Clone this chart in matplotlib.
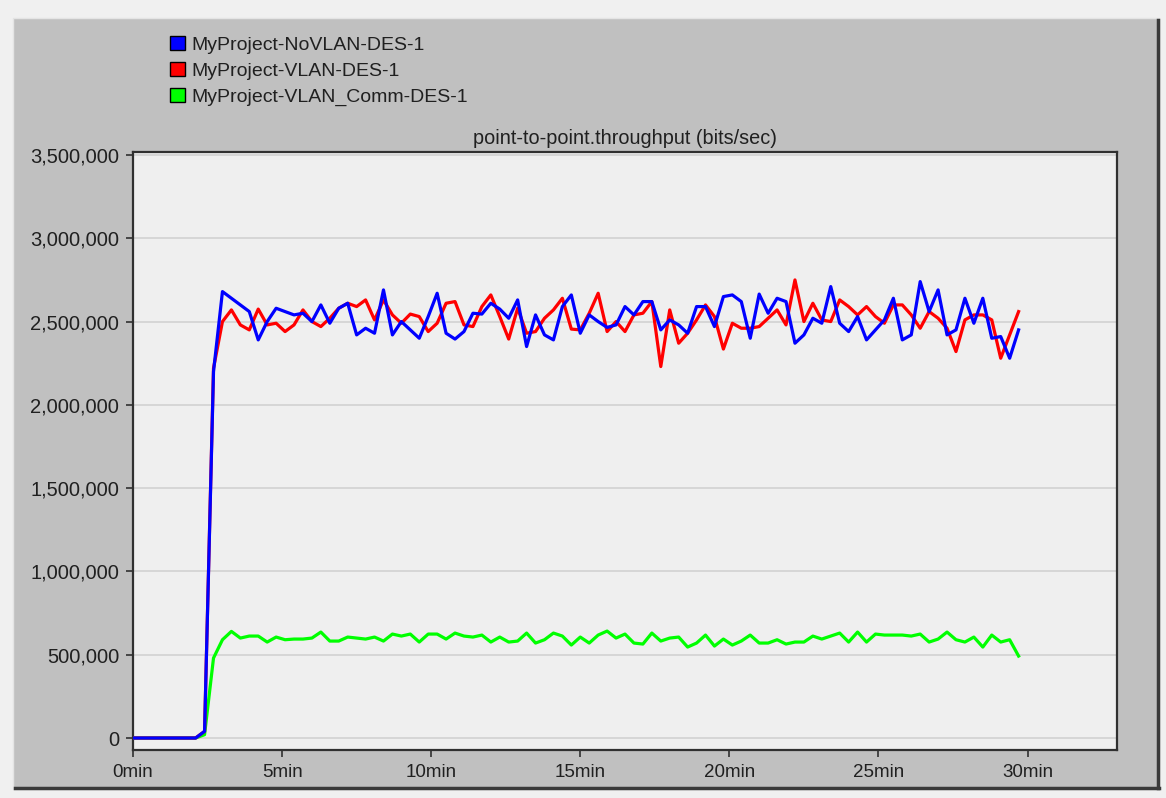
import numpy as np
import matplotlib
matplotlib.use('Agg')
import matplotlib.pyplot as plt
from matplotlib.patches import Rectangle, Patch
from matplotlib.lines import Line2D
from matplotlib.ticker import FuncFormatter

plt.rcParams['font.family'] = ['Liberation Sans', 'DejaVu Sans']

# sample step of the simulation statistic (minutes)
step = 0.3

labels = ['MyProject-NoVLAN-DES-1', 'MyProject-VLAN-DES-1', 'MyProject-VLAN_Comm-DES-1']
colors = ['#0000ff', '#ff0000', '#00ff00']

novlan = [0, 0, 0, 0, 0, 0, 0, 0, 40000, 2200000,
          2680000, 2640000, 2600000, 2560000, 2390000, 2500000, 2580000, 2560000, 2540000, 2550000,
          2500000, 2600000, 2490000, 2580000, 2610000, 2420000, 2460000, 2430000, 2690000, 2420000,
          2500000, 2450000, 2400000, 2530000, 2670000, 2430000, 2395000, 2440000, 2550000, 2545000,
          2610000, 2575000, 2520000, 2630000, 2350000, 2540000, 2420000, 2390000, 2590000, 2660000,
          2430000, 2540000, 2500000, 2465000, 2480000, 2590000, 2540000, 2620000, 2620000, 2450000,
          2510000, 2480000, 2430000, 2590000, 2590000, 2470000, 2650000, 2660000, 2620000, 2400000,
          2665000, 2550000, 2640000, 2620000, 2370000, 2420000, 2520000, 2490000, 2710000, 2490000,
          2440000, 2530000, 2390000, 2450000, 2510000, 2640000, 2390000, 2420000, 2740000, 2560000,
          2690000, 2420000, 2450000, 2640000, 2490000, 2640000, 2400000, 2410000, 2280000, 2450000]

vlan = [0, 0, 0, 0, 0, 0, 0, 0, 40000, 2220000,
        2500000, 2570000, 2480000, 2450000, 2575000, 2480000, 2490000, 2440000, 2480000, 2570000,
        2500000, 2470000, 2520000, 2580000, 2610000, 2590000, 2630000, 2510000, 2630000, 2540000,
        2490000, 2545000, 2530000, 2440000, 2490000, 2610000, 2620000, 2480000, 2470000, 2590000,
        2660000, 2530000, 2395000, 2580000, 2430000, 2440000, 2520000, 2570000, 2640000, 2455000,
        2450000, 2550000, 2670000, 2440000, 2500000, 2440000, 2540000, 2550000, 2620000, 2230000,
        2570000, 2370000, 2430000, 2510000, 2600000, 2530000, 2335000, 2490000, 2460000, 2460000,
        2470000, 2520000, 2570000, 2480000, 2750000, 2500000, 2610000, 2510000, 2500000, 2630000,
        2590000, 2540000, 2590000, 2530000, 2490000, 2600000, 2600000, 2540000, 2460000, 2560000,
        2520000, 2460000, 2320000, 2510000, 2540000, 2540000, 2510000, 2280000, 2420000, 2560000]

vlan_comm = [0, 0, 0, 0, 0, 0, 0, 0, 20000, 480000,
             590000, 640000, 600000, 612000, 612000, 576000, 606000, 590000, 594000, 594000,
             600000, 636000, 582000, 582000, 606000, 600000, 594000, 606000, 582000, 624000,
             612000, 624000, 576000, 624000, 624000, 594000, 630000, 612000, 606000, 618000,
             576000, 606000, 576000, 582000, 630000, 570000, 590000, 630000, 612000, 558000,
             606000, 570000, 618000, 642000, 600000, 624000, 570000, 564000, 630000, 582000,
             600000, 606000, 546000, 570000, 618000, 552000, 594000, 558000, 582000, 618000,
             570000, 570000, 590000, 564000, 576000, 576000, 612000, 594000, 612000, 630000,
             576000, 636000, 576000, 624000, 618000, 618000, 618000, 612000, 624000, 576000,
             594000, 636000, 590000, 576000, 606000, 546000, 618000, 576000, 590000, 492000]

minutes = np.arange(len(novlan)) * step

W, H = 1166, 798
fig = plt.figure(figsize=(W / 100, H / 100), dpi=100)
fig.patch.set_facecolor('#f0f0f0')


def fx(px):
    return px / W


def fy(py):
    return 1 - py / H


# grey window panel with a dark shadow on the right and bottom
fig.patches.append(Rectangle((fx(13), fy(789)), fx(1159) - fx(13), fy(18) - fy(789),
                             transform=fig.transFigure, facecolor='#c0c0c0',
                             edgecolor='#e4e4e4', linewidth=1.0, zorder=-10))
fig.add_artist(Line2D([fx(15), fx(1159)], [fy(788), fy(788)], color='#3a3a3a', lw=2.5, zorder=-9))
fig.add_artist(Line2D([fx(1158), fx(1158)], [fy(20), fy(788)], color='#3a3a3a', lw=2.5, zorder=-9))

ax = fig.add_axes([fx(133), fy(750), fx(1117) - fx(133), fy(152) - fy(750)])
ax.set_facecolor('#efefef')

ax.plot(minutes, vlan_comm, color=colors[2], lw=2.3, zorder=3)
ax.plot(minutes, vlan, color=colors[1], lw=2.3, zorder=4)
ax.plot(minutes, novlan, color=colors[0], lw=2.3, zorder=5)

ax.set_xlim(0, 33)
ax.set_ylim(-72000, 3518000)
ax.set_yticks(np.arange(0, 3500001, 500000))
ax.yaxis.set_major_formatter(FuncFormatter(lambda v, p: f'{v:,.0f}'))
ax.set_xticks(range(0, 31, 5))
ax.set_xticklabels([f'{m}min' for m in range(0, 31, 5)])
ax.grid(axis='y', color='#d6d6d6', lw=1.4)
ax.set_axisbelow(True)
for s in ax.spines.values():
    s.set_color('#303030')
    s.set_linewidth(1.6)
ax.tick_params(direction='out', length=5, width=1.2, color='#303030',
               labelsize=13.5, labelcolor='#202020', pad=5)
ax.tick_params(axis='y', labelsize=14.5)

ax.set_title('point-to-point.throughput (bits/sec)', fontsize=14.3, color='#202020', pad=6)

handles = [Patch(facecolor=c, edgecolor='black', linewidth=1.0) for c in colors]
fig.legend(handles, labels, loc='upper left', bbox_to_anchor=(fx(170), fy(36)),
           frameon=False, fontsize=14, handlelength=0.75, handleheight=0.75,
           handletextpad=0.35, labelspacing=0.42, borderaxespad=0, borderpad=0,
           labelcolor='#202020')

fig.savefig('out.png', dpi=100, facecolor=fig.get_facecolor())
